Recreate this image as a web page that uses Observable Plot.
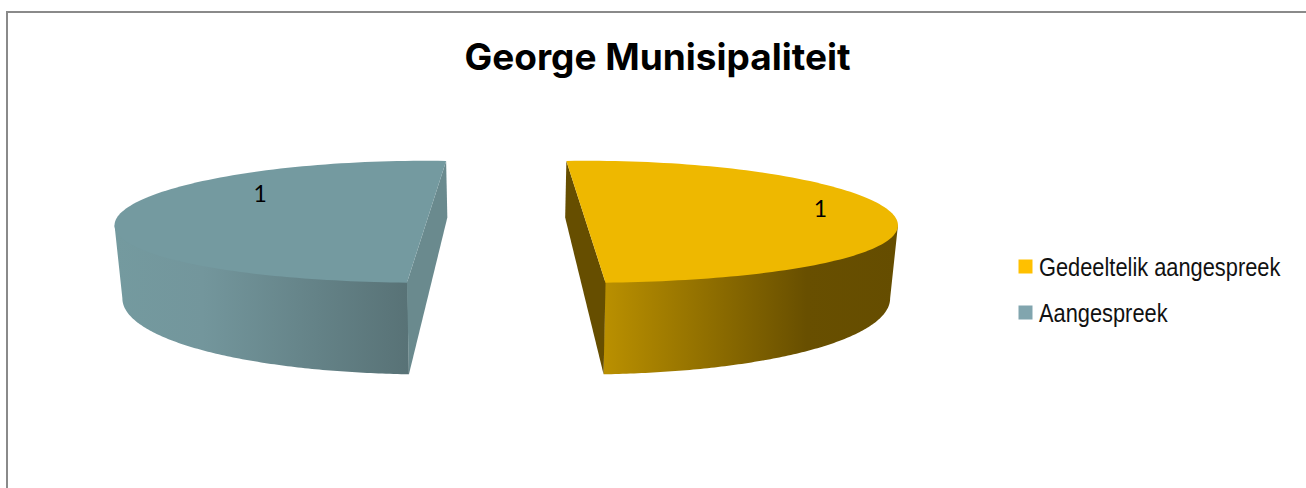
<!DOCTYPE html>
<html>
<head>
<meta charset="utf-8">
<style>
html,body{margin:0;padding:0;background:#fff;overflow:hidden}
</style>
<script src="https://cdn.jsdelivr.net/npm/d3@7"></script>
<script src="https://cdn.jsdelivr.net/npm/@observablehq/plot@0.6"></script>
</head>
<body>
<div id="chart"></div>
<script>
const categories = ["Gedeeltelik aangespreek", "Aangespreek"];
const values = [1, 1];
const chartTitle = "George Munisipaliteit";

// Styles per category
const topColors = ["#eeb800", "#749aa0"];
const cutColors = ["#664e00", "#6a8a8e"];
const legendColors = ["#ffc000", "#81a5ae"];

// 3-D pie model: units are pie radii on screen
const firstSlice = -3.6 * Math.PI / 180;
const tilt = 2 * 3.6 * Math.PI / 180; // the second slice is seen mirrored in the perspective view
const explosion = 0.256;
const bottomScaleX = 0.98, bottomScaleY = 1.287, bottomShiftY = 1.22;
const noseDropTop = 0.057, noseDropBottom = 0.04; // perspective sag at the left and right ends
const labelAt = [[1.007, -0.217], [-0.789, -0.463]];

const arcs = d3.pie().sort(null).startAngle(firstSlice).endAngle(firstSlice + 2 * Math.PI)(values);

function pt(arc, a, bottom, radial = 1) {
  const mid = (arc.startAngle + arc.endAngle) / 2;
  const X = explosion * Math.sin(mid) + radial * Math.sin(a);
  const Y = -explosion * Math.cos(mid) - radial * Math.cos(a);
  const sag = Math.sin(a) ** 2;
  return bottom
    ? {X: X * bottomScaleX, Y: Y * bottomScaleY + bottomShiftY + noseDropBottom * sag}
    : {X, Y: Y + noseDropTop * sag};
}
function rim(arc, a0, a1, bottom, radial = 1) {
  const n = 120;
  return d3.range(n + 1).map(i => pt(arc, a0 + (a1 - a0) * i / n, bottom, radial));
}

const gold = arcs[0];
const teal = {startAngle: arcs[1].startAngle + tilt, endAngle: arcs[1].endAngle + tilt};
// The wall's upper edge tucks under the top face so that no seam shows between them.
const tuck = 0.97;
const goldWall = [pt(gold, Math.PI / 2), ...rim(gold, Math.PI / 2, gold.endAngle, false, tuck), ...rim(gold, gold.endAngle, Math.PI / 2, true)];
const tealWall = [...rim(teal, teal.startAngle, 1.5 * Math.PI, false, tuck), pt(teal, 1.5 * Math.PI), ...rim(teal, 1.5 * Math.PI, teal.startAngle, true)];
const goldCut = [pt(gold, gold.startAngle), pt(gold, gold.endAngle), pt(gold, gold.endAngle, true), pt(gold, gold.startAngle, true)];
const tealCut = [pt(teal, teal.endAngle), pt(teal, teal.startAngle), pt(teal, teal.startAngle, true), pt(teal, teal.endAngle, true)];

function gradient(id, stops) {
  const lg = d3.create("svg:linearGradient").attr("id", id).attr("x1", 0).attr("x2", 1).attr("y1", 0).attr("y2", 0);
  stops.forEach(([o, c]) => lg.append("stop").attr("offset", o).attr("stop-color", c));
  return lg.node();
}
const defs = () => {
  const d = d3.create("svg:defs");
  d.append(() => gradient("goldWallFill", [[0, "#ba9000"], [0.69, "#684f00"], [1, "#654d00"]]));
  d.append(() => gradient("tealWallFill", [[0, "#749a9f"], [0.3, "#73969c"], [1, "#587276"]]));
  return d.node();
};

const poly = (data, fill) => Plot.line(data, {x: "X", y: "Y", fill, stroke: "none", curve: "linear-closed"});

const chart = Plot.plot({
  width: 1306,
  height: 488,
  marginLeft: 0, marginRight: 0, marginTop: 0, marginBottom: 0,
  x: {domain: [-1, 1], range: [193.75, 817.75], axis: null},
  y: {domain: [-1, 1], range: [161.25, 283.25], axis: null},
  style: {background: "#fff"},
  marks: [
    defs,
    Plot.frame({stroke: "#8a8a8a", strokeWidth: 2, insetLeft: 6.5, insetTop: 11.5, insetRight: -10, insetBottom: -10}),
    poly(tealWall, "url(#tealWallFill)"),
    poly(tealCut, cutColors[1]),
    poly(rim(teal, teal.startAngle, teal.endAngle), topColors[1]),
    poly(goldWall, "url(#goldWallFill)"),
    poly(goldCut, cutColors[0]),
    poly(rim(gold, gold.startAngle, gold.endAngle), topColors[0]),
    Plot.text(values, {
      x: (d, i) => labelAt[i][0],
      y: (d, i) => labelAt[i][1],
      text: d => String(d),
      fontFamily: "Lato", fontSize: 23, fill: "#000"
    }),
    Plot.text([chartTitle], {
      frameAnchor: "top-left", dx: 657, dy: 58, text: d => d,
      textAnchor: "middle", lineAnchor: "middle",
      fontFamily: "Inter", fontWeight: 700, fontSize: 37, fill: "#000"
    }),
    ...categories.flatMap((c, i) => [
      Plot.dot([c], {
        frameAnchor: "top-left", dx: 1025, dy: 266 + 46 * i,
        symbol: "square", r: 7.9, fill: legendColors[i], stroke: "none"
      }),
      Plot.text([c], {
        frameAnchor: "top-left", dx: 1038.5, dy: 267 + 46 * i, text: d => d,
        textAnchor: "start", lineAnchor: "middle", className: "legend-label",
        fontFamily: "Liberation Sans", fontSize: 25, fill: "#111"
      })
    ])
  ]
});
document.getElementById("chart").appendChild(chart);
// The reference legend uses a narrow face: condense the regular face to its width.
const condense = 0.873;
d3.select(chart).selectAll(".legend-label text").each(function () {
  this.setAttribute("transform", (this.getAttribute("transform") || "") + ` scale(${condense},1)`);
});
</script>
</body>
</html>
